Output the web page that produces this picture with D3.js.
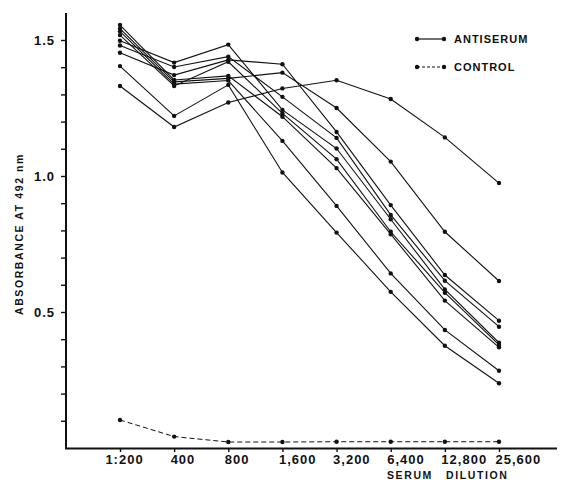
<!DOCTYPE html>
<html>
<head>
<meta charset="utf-8">
<script src="https://cdn.jsdelivr.net/npm/d3@7"></script>
<style>
  html, body { margin: 0; padding: 0; background: #fff; }
  svg { display: block; }
  text { font-family: "Liberation Sans", Arial, sans-serif; font-weight: bold; fill: #111; }
</style>
</head>
<body>
<svg id="chart" width="561" height="480"></svg>
<script>
// ---- data ----
const dilutions = ["1:200", "400", "800", "1,600", "3,200", "6,400", "12,800", "25,600"];
const antiserumA = [1.331, 1.180, 1.270, 1.322, 1.352, 1.283, 1.142, 0.974];
const antiserumB = [1.404, 1.221, 1.335, 1.013, 0.792, 0.574, 0.376, 0.238];
const antiserumC = [1.532, 1.338, 1.351, 1.129, 0.890, 0.642, 0.434, 0.284];
const antiserumD = [1.542, 1.346, 1.359, 1.380, 1.250, 1.053, 0.795, 0.614];
const antiserumE = [1.453, 1.371, 1.427, 1.411, 1.162, 0.893, 0.636, 0.468];
const antiserumF = [1.480, 1.401, 1.439, 1.291, 1.140, 0.857, 0.615, 0.446];
const antiserumG = [1.497, 1.417, 1.483, 1.243, 1.101, 0.841, 0.583, 0.387];
const antiserumH = [1.518, 1.331, 1.420, 1.230, 1.062, 0.795, 0.571, 0.379];
const antiserumI = [1.555, 1.353, 1.368, 1.218, 1.029, 0.786, 0.542, 0.370];
const control    = [0.103, 0.042, 0.022, 0.022, 0.023, 0.023, 0.023, 0.023];
const yTicks = [0.1, 0.2, 0.3, 0.4, 0.5, 0.6, 0.7, 0.8, 0.9, 1.0, 1.1, 1.2, 1.3, 1.4, 1.5];
const yLabelled = [0.5, 1.0, 1.5];
const legendLabels = ["ANTISERUM", "CONTROL"];
const yTitle = "ABSORBANCE AT 492 nm";
const xTitleWords = ["SERUM", "DILUTION"];

const antiserum = [antiserumA, antiserumB, antiserumC, antiserumD, antiserumE,
                   antiserumF, antiserumG, antiserumH, antiserumI];

// ---- layout ----
const svg = d3.select("#chart");
const axisLeftX = 66, axisBottomY = 448, axisTopY = 13, axisRightX = 557;

const x = d3.scalePoint().domain(dilutions).range([120, 499]);
const y = d3.scaleLinear().domain([0, 1.6]).range([axisBottomY, 12.8]);

const ink = "#111";

// axes lines
svg.append("line").attr("x1", axisLeftX).attr("x2", axisLeftX)
  .attr("y1", axisTopY).attr("y2", axisBottomY + 1)
  .attr("stroke", ink).attr("stroke-width", 2);
svg.append("line").attr("x1", axisLeftX - 1).attr("x2", axisRightX)
  .attr("y1", axisBottomY + 0.5).attr("y2", axisBottomY + 0.5)
  .attr("stroke", ink).attr("stroke-width", 1.8);

// y axis
const yAxis = d3.axisLeft(y).tickValues(yTicks).tickSize(5).tickPadding(6)
  .tickFormat(d => yLabelled.some(v => Math.abs(v - d) < 1e-9) ? d3.format(".1f")(d) : "");
const gy = svg.append("g").attr("transform", `translate(${axisLeftX},0)`).call(yAxis);
gy.select(".domain").remove();
gy.selectAll(".tick line").attr("stroke", ink).attr("stroke-width", 1.4);
gy.selectAll(".tick text").attr("font-size", 13).attr("letter-spacing", 1)
  .style("font-family", "'Liberation Sans', Arial, sans-serif").style("font-weight", "bold").attr("fill", ink);

// x axis
const xAxis = d3.axisBottom(x).tickSize(4).tickPadding(3);
const gx = svg.append("g").attr("transform", `translate(0,${axisBottomY})`).call(xAxis);
gx.select(".domain").remove();
gx.selectAll(".tick line").attr("stroke", ink).attr("stroke-width", 1.4);
gx.selectAll(".tick text").attr("font-size", 13).attr("letter-spacing", 1)
  .style("font-family", "'Liberation Sans', Arial, sans-serif").style("font-weight", "bold").attr("fill", ink)
  .attr("text-anchor", (d, i) => i === 0 ? "middle" : "start")
  .attr("dx", (d, i) => i === 0 ? 4 : -4);

// titles
svg.append("text")
  .attr("transform", `translate(23,234) rotate(-90)`)
  .attr("text-anchor", "middle")
  .attr("font-size", 10.5).attr("letter-spacing", 1.6)
  .text(yTitle);
svg.append("text").attr("x", 387).attr("y", 479).attr("font-size", 10.5)
  .attr("letter-spacing", 1.6).text(xTitleWords[0]);
svg.append("text").attr("x", 446).attr("y", 479).attr("font-size", 10.5)
  .attr("letter-spacing", 1.6).text(xTitleWords[1]);

// lines
const line = d3.line().x((d, i) => x(dilutions[i])).y(d => y(d));

const gs = svg.append("g");
antiserum.forEach(series => {
  gs.append("path").datum(series).attr("d", line)
    .attr("fill", "none").attr("stroke", ink).attr("stroke-width", 1.1);
});
gs.append("path").datum(control).attr("d", line)
  .attr("fill", "none").attr("stroke", ink).attr("stroke-width", 1)
  .attr("stroke-dasharray", "5,3");

[...antiserum, control].forEach(series => {
  gs.selectAll(null).data(series).enter().append("circle")
    .attr("cx", (d, i) => x(dilutions[i])).attr("cy", d => y(d))
    .attr("r", 2.2).attr("fill", ink);
});

// legend
const legend = svg.append("g");
legendLabels.forEach((lab, i) => {
  const ly = 39 + i * 28;
  legend.append("line").attr("x1", 417).attr("x2", 444).attr("y1", ly).attr("y2", ly)
    .attr("stroke", ink).attr("stroke-width", i === 0 ? 1.2 : 1)
    .attr("stroke-dasharray", i === 0 ? null : "3,2");
  legend.append("circle").attr("cx", 417).attr("cy", ly).attr("r", 2.2).attr("fill", ink);
  legend.append("circle").attr("cx", 444).attr("cy", ly).attr("r", 2.2).attr("fill", ink);
  legend.append("text").attr("x", 454).attr("y", ly + 4).attr("font-size", 11)
    .attr("letter-spacing", 1).text(lab);
});
</script>
</body>
</html>
